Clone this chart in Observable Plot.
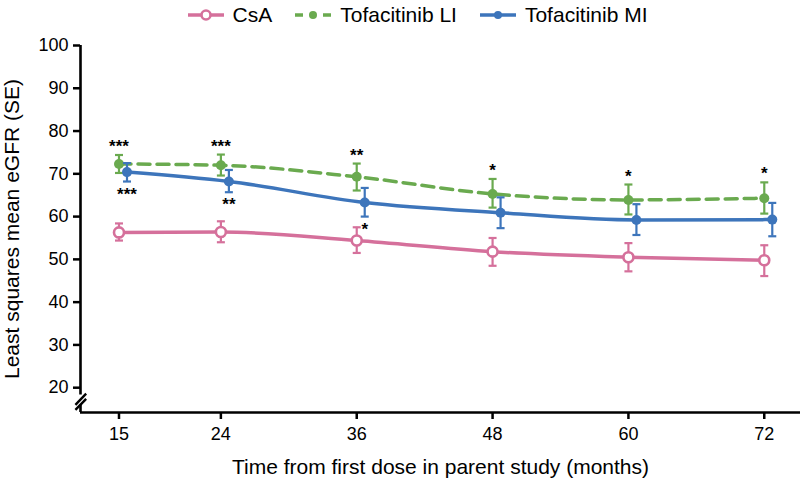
<!DOCTYPE html>
<html><head><meta charset="utf-8">
<script src="https://cdn.jsdelivr.net/npm/d3@7"></script>
<script src="https://cdn.jsdelivr.net/npm/@observablehq/plot@0.6"></script>
<style>
body{margin:0;background:#fff;font-family:"Liberation Sans",Arial,sans-serif;color:#000;}
#legend{height:30px;display:flex;align-items:center;justify-content:center;padding-left:34px;font-size:21px;box-sizing:border-box;}
.item{display:flex;align-items:center;margin:0 11px;}
.item svg{margin-right:8px;}
#chart svg{display:block;}
</style></head><body><div id="legend"></div><div id="chart"></div>
<script>
// ---- data ----
const months = [15, 24, 36, 48, 60, 72];
const seriesNames = ["CsA", "Tofacitinib LI", "Tofacitinib MI"];
const seriesColors = ["#d5709b", "#6aaa4f", "#3d75bb"];
const csaMean = [56.3, 56.4, 54.4, 51.8, 50.5, 49.8];
const csaLow  = [54.4, 54.0, 51.5, 48.5, 47.2, 46.1];
const csaHigh = [58.4, 58.9, 57.5, 55.0, 53.8, 53.3];
const liMean  = [72.3, 72.0, 69.3, 65.3, 63.9, 64.3];
const liLow   = [70.2, 69.6, 66.1, 62.1, 60.5, 60.7];
const liHigh  = [74.4, 74.5, 72.4, 68.8, 67.5, 68.0];
const miMean  = [70.4, 68.2, 63.3, 60.9, 59.2, 59.3];
const miLow   = [68.2, 65.7, 60.0, 57.3, 55.7, 55.4];
const miHigh  = [72.5, 70.9, 66.7, 64.5, 62.9, 63.2];
const sigLI = ["***", "***", "**", "*", "*", "*"];
const sigMI = ["***", "**", "*", "", "", ""];
const yTicks = [20, 30, 40, 50, 60, 70, 80, 90, 100];
const xDomain = [11.6, 75.2];
const yDomain = [14.2, 100];
const yBreak = [16.0, 18.3];
const xTitle = "Time from first dose in parent study (months)";
const yTitle = "Least squares mean eGFR (SE)";

// ---- build tables ----
function rows(name, mean, lo, hi, sig) {
  return months.map((m, i) => ({series: name, month: m, mean: mean[i], lo: lo[i], hi: hi[i], sig: sig ? sig[i] : ""}));
}
const csa = rows(seriesNames[0], csaMean, csaLow, csaHigh, null);
const li = rows(seriesNames[1], liMean, liLow, liHigh, sigLI);
const mi = rows(seriesNames[2], miMean, miLow, miHigh, sigMI);

const capSymbol = {draw(ctx, size) { const w = Math.sqrt(size / Math.PI); ctx.moveTo(-w, 0); ctx.lineTo(w, 0); }};

function seriesMarks(data, color, opts) {
  const dx = opts.dx || 0;
  return [
    Plot.line(data, {x: "month", y: "mean", stroke: color, strokeWidth: 3.5, curve: "monotone-x", dx, strokeDasharray: opts.dash}),
    Plot.ruleX(data, {x: "month", y1: "lo", y2: "hi", stroke: color, strokeWidth: 2.2, dx}),
    Plot.dot(data, {x: "month", y: "hi", symbol: capSymbol, r: 4, stroke: color, strokeWidth: 2.2, dx}),
    Plot.dot(data, {x: "month", y: "lo", symbol: capSymbol, r: 4, stroke: color, strokeWidth: 2.2, dx}),
    Plot.dot(data, {x: "month", y: "mean", r: 5, fill: opts.open ? "white" : color, stroke: color, strokeWidth: opts.open ? 2.6 : 0, dx})
  ];
}

const x0 = xDomain[0];
const slashes = [
  {x1: x0 - 0.45, y1: yBreak[0], x2: x0 + 0.5, y2: yBreak[1] + 0.3},
  {x1: x0 - 0.45, y1: yBreak[0] - 1.2, x2: x0 + 0.5, y2: yBreak[1] - 0.9}
];

const chart = Plot.plot({
  width: 800, height: 451,
  marginTop: 15, marginBottom: 69, marginLeft: 80, marginRight: 0,
  x: {domain: xDomain},
  y: {domain: yDomain},
  style: {fontFamily: "'Liberation Sans', Arial, sans-serif", fontSize: "18px", color: "#000", background: "#fff"},
  marks: [
    Plot.axisX({ticks: months, tickSize: 7, tickPadding: 8, strokeWidth: 2.5, fontSize: 18, label: null}),
    Plot.axisY({ticks: yTicks, tickSize: 7, tickPadding: 5, strokeWidth: 2.5, fontSize: 18, label: null}),
    Plot.ruleY([yDomain[0]], {strokeWidth: 2.6}),
    Plot.ruleX([{y1: yBreak[1], y2: yDomain[1]}, {y1: yDomain[0], y2: yBreak[0]}], {x: () => x0, y1: "y1", y2: "y2", strokeWidth: 2.6}),
    Plot.link(slashes, {x1: "x1", y1: "y1", x2: "x2", y2: "y2", strokeWidth: 2.4, stroke: "#000"}),
    Plot.text([xTitle], {frameAnchor: "bottom", dy: 61, lineAnchor: "bottom", fontSize: 21}),
    Plot.text([yTitle], {frameAnchor: "left", rotate: -90, dx: -68, textAnchor: "middle", lineAnchor: "middle", fontSize: 21}),
    ...seriesMarks(csa, seriesColors[0], {open: true}),
    ...seriesMarks(li, seriesColors[1], {dash: "12,7"}),
    ...seriesMarks(mi, seriesColors[2], {dx: 8}),
    Plot.text(li.filter(d => d.sig), {x: "month", y: "hi", text: "sig", dy: -3, lineAnchor: "bottom", fontWeight: "bold", fontSize: 17}),
    Plot.text(mi.filter(d => d.sig), {x: "month", y: "lo", text: "sig", dx: 8, dy: 18, lineAnchor: "bottom", fontWeight: "bold", fontSize: 17})
  ]
});
document.getElementById("chart").appendChild(chart);

// ---- legend ----
const legend = document.getElementById("legend");
const legendStyles = [{open: true, dash: null}, {open: false, dash: "8,20"}, {open: false, dash: null}];
seriesNames.forEach((name, i) => {
  const c = seriesColors[i], st = legendStyles[i];
  const item = document.createElement("div");
  item.className = "item";
  item.innerHTML = `<svg width="38" height="16"><line x1="1" y1="8" x2="37" y2="8" stroke="${c}" stroke-width="3.5" ${st.dash ? `stroke-dasharray="${st.dash}"` : ""}/>` +
    `<circle cx="19" cy="8" r="${st.open ? 4.5 : 4}" fill="${st.open ? "white" : c}" stroke="${c}" stroke-width="${st.open ? 2.6 : 0}"/></svg><span>${name}</span>`;
  legend.appendChild(item);
});
</script></body></html>
